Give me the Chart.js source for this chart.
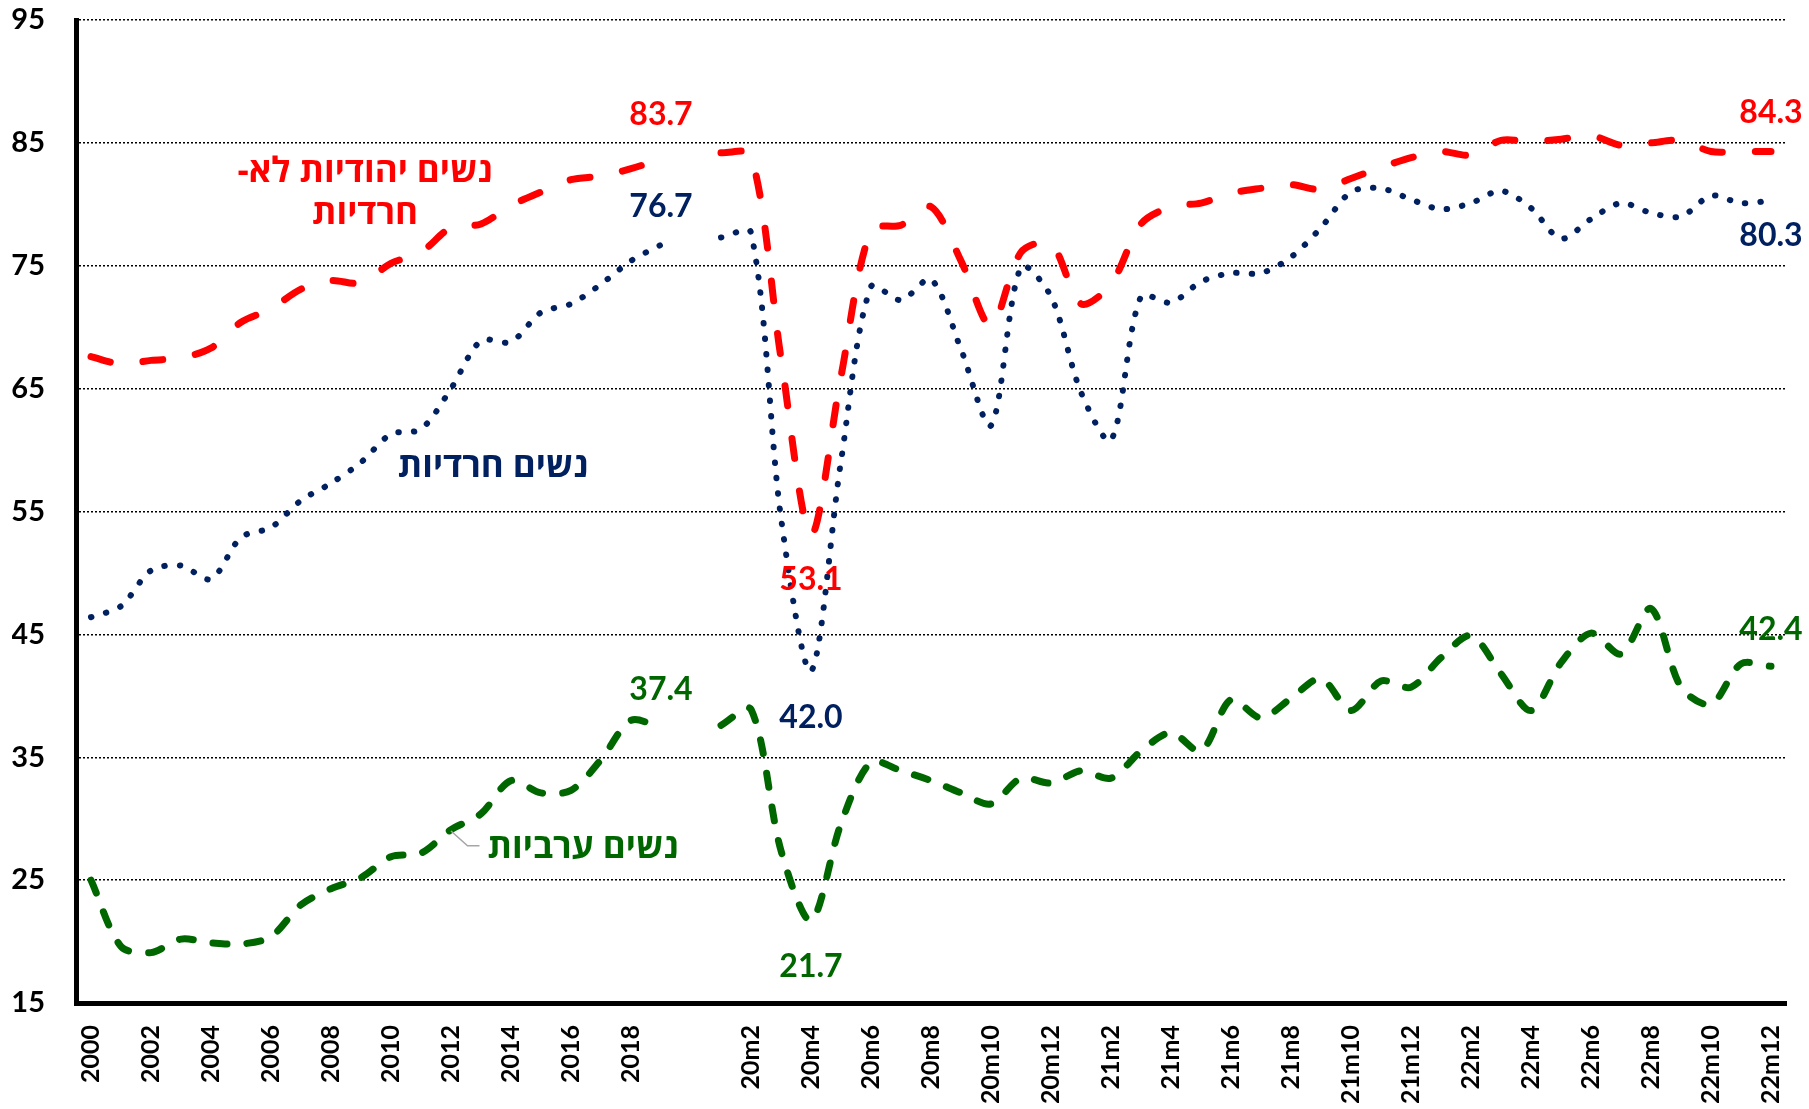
<!DOCTYPE html>
<html><head><meta charset="utf-8">
<script src="https://cdn.jsdelivr.net/npm/chart.js@4"></script>
<style>html,body{margin:0;padding:0;background:#fff;overflow:hidden}</style>
</head><body>
<canvas id="c" width="1809" height="1109" style="display:block;width:1809px;height:1109px"></canvas>
<script>
// ---- categories ----
const years = ['2000','2001','2002','2003','2004','2005','2006','2007','2008','2009','2010','2011','2012','2013','2014','2015','2016','2017','2018','2019'];
const months = ['20m1','20m2','20m3','20m4','20m5','20m6','20m7','20m8','20m9','20m10','20m11','20m12',
  '21m1','21m2','21m3','21m4','21m5','21m6','21m7','21m8','21m9','21m10','21m11','21m12',
  '22m1','22m2','22m3','22m4','22m5','22m6','22m7','22m8','22m9','22m10','22m11','22m12'];
const categories = [...years, '', ...months];

// ---- series values ----
const jewishAnnual = [67.6,67.0,67.3,67.5,68.3,70.4,71.5,73.1,73.8,73.6,75.2,76.1,78.1,78.4,79.9,81.0,82.0,82.3,82.9,83.7];
const jewishMonthly = [84.2,84.0,67.5,53.1,66.0,77.9,78.3,79.8,75.4,70.1,76.1,76.8,71.9,73.5,78.4,79.8,80.1,80.9,
  81.3,81.6,81.2,82.1,83.0,83.8,84.3,84.0,85.2,85.1,85.3,85.6,84.8,85.0,85.2,84.3,84.3,84.3];
const harediAnnual = [46.4,47.3,50.2,50.6,49.5,52.9,53.7,55.9,57.3,59.0,61.3,61.7,65.0,68.9,68.8,71.2,71.9,73.5,75.4,76.7];
const harediMonthly = [77.3,77.7,54.5,42.0,59.1,73.3,72.2,73.9,68.2,62.0,74.9,72.5,64.7,60.8,72.5,72.0,73.7,74.4,
  74.4,75.7,78.1,81.0,81.3,80.4,79.6,80.1,81.1,79.7,77.2,78.8,80.1,79.3,79.0,80.7,80.1,80.3];
const arabAnnual = [25.0,19.6,19.1,20.2,19.9,19.8,20.4,23.0,24.3,25.2,26.9,27.2,29.1,30.4,33.1,32.1,32.3,34.8,38.0,37.4];
const arabMonthly = [37.6,38.9,27.4,21.7,29.6,34.6,33.9,33.1,32.1,31.2,33.3,32.9,33.9,33.3,35.5,37.0,35.5,39.7,
  38.2,39.8,41.4,38.8,41.2,40.7,43.1,44.9,41.8,38.8,42.7,45.1,43.4,47.1,40.7,39.3,42.6,42.4];

// ---- tick labels ----
const yTicks = [15,25,35,45,55,65,75,85,95];
const seriesNames = { jewish: ['נשים יהודיות לא-','חרדיות'], haredi: 'נשים חרדיות', arab: 'נשים ערביות' };

const jewish = [...jewishAnnual, null, ...jewishMonthly];
const haredi = [...harediAnnual, null, ...harediMonthly];
const arab = [...arabAnnual, null, ...arabMonthly];

const RED = '#FF0000', NAVY = '#002060', GREEN = '#006600';
const NUMFONT = "Lato, 'Open Sans', 'DejaVu Sans', sans-serif";
const HEBFONT = "'Open Sans', 'DejaVu Sans', Arial, sans-serif";

const idx2019 = years.length - 1;
const idxDip = categories.indexOf('20m4');
const idxLast = categories.length - 1;

const labelPlugin = {
  id: 'labels',
  afterDatasetsDraw(chart) {
    const {ctx, scales: {x, y}} = chart;
    const vals = [jewish, haredi, arab];
    const cols = [RED, NAVY, GREEN];
    // [dataset, index, vertical offset in px]
    const items = [
      [0, idx2019, -44], [1, idx2019, -38], [2, idx2019, -38],
      [0, idxDip, 45], [1, idxDip, 46], [2, idxDip, 46],
      [0, idxLast, -39], [1, idxLast, 35], [2, idxLast, -37]
    ];
    ctx.save();
    ctx.font = 'bold 32px ' + NUMFONT;
    ctx.textAlign = 'center';
    ctx.textBaseline = 'middle';
    items.forEach(([d, i, dy]) => {
      const v = vals[d][i];
      ctx.fillStyle = cols[d];
      ctx.fillText(v.toFixed(1), x.getPixelForValue(i), y.getPixelForValue(v) + dy);
    });
    // series names
    ctx.direction = 'rtl';
    ctx.font = 'bold 35px ' + HEBFONT;
    ctx.fillStyle = RED;
    ctx.fillText(seriesNames.jewish[0], x.getPixelForValue(9.13), y.getPixelForValue(82.6));
    ctx.fillText(seriesNames.jewish[1], x.getPixelForValue(9.13), y.getPixelForValue(79.2));
    ctx.fillStyle = NAVY;
    ctx.fillText(seriesNames.haredi, x.getPixelForValue(13.4), y.getPixelForValue(58.6));
    ctx.fillStyle = GREEN;
    ctx.fillText(seriesNames.arab, x.getPixelForValue(16.4), y.getPixelForValue(27.6));
    // leader line
    ctx.strokeStyle = '#A6A6A6';
    ctx.lineWidth = 1.5;
    ctx.beginPath();
    ctx.moveTo(x.getPixelForValue(12.0), y.getPixelForValue(29.0));
    ctx.lineTo(x.getPixelForValue(12.55), y.getPixelForValue(27.8));
    ctx.lineTo(x.getPixelForValue(12.95), y.getPixelForValue(27.8));
    ctx.stroke();
    ctx.restore();
  }
};

new Chart(document.getElementById('c'), {
  type: 'line',
  data: {
    labels: categories,
    datasets: [
      { data: jewish, borderColor: RED, borderWidth: 7, borderDash: [20, 33], borderCapStyle: 'round', borderJoinStyle: 'round', tension: 0.3, pointRadius: 0, spanGaps: false },
      { data: haredi, borderColor: NAVY, borderWidth: 6, borderDash: [0.5, 15], borderCapStyle: 'round', borderJoinStyle: 'round', tension: 0.3, pointRadius: 0, spanGaps: false },
      { data: arab, borderColor: GREEN, borderWidth: 7, borderDash: [14, 20], borderCapStyle: 'round', borderJoinStyle: 'round', tension: 0.3, pointRadius: 0, spanGaps: false }
    ]
  },
  options: {
    responsive: false,
    animation: false,
    devicePixelRatio: 1,
    layout: { padding: { left: 12, top: 20, right: 23, bottom: 6 } },
    plugins: { legend: { display: false }, tooltip: { enabled: false } },
    scales: {
      x: {
        offset: true,
        afterFit: (s) => { s.paddingLeft = 0; s.paddingRight = 0; s.height = 100; },
        grid: { display: false, drawTicks: false },
        border: { display: true, color: '#000', width: 5 },
        ticks: {
          autoSkip: false, minRotation: 90, maxRotation: 90, padding: 22,
          color: '#000', font: { family: NUMFONT, size: 25, weight: 'bold' },
          callback: (v, i) => (i % 2 === 0 ? categories[i] : '')
        }
      },
      y: {
        min: yTicks[0], max: yTicks[yTicks.length - 1],
        afterBuildTicks: (s) => { s.ticks = yTicks.map(v => ({ value: v })); },
        afterFit: (s) => { s.paddingTop = 0; s.paddingBottom = 0; s.width = 64; },
        grid: { color: (c) => (c.tick && c.tick.value === yTicks[0] ? 'rgba(0,0,0,0)' : '#000'), lineWidth: 1.5, drawTicks: false },
        border: { display: true, color: '#000', width: 5, dash: [2, 2] },
        ticks: { padding: 31, color: '#000', font: { family: NUMFONT, size: 29, weight: 'bold' } }
      }
    }
  },
  plugins: [labelPlugin]
});
</script>
</body></html>
